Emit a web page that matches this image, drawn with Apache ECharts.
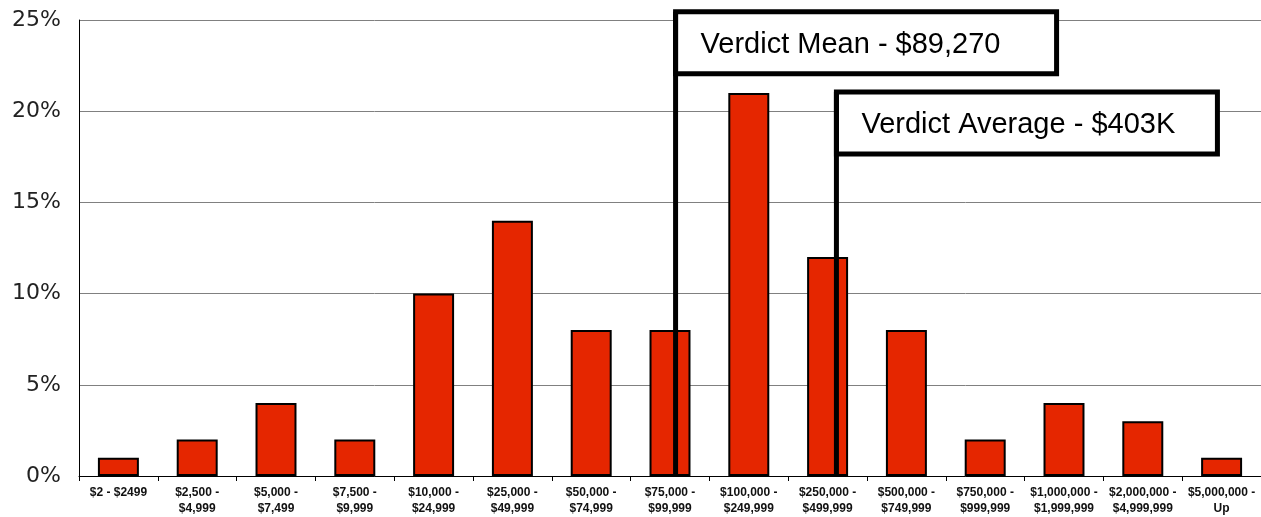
<!DOCTYPE html>
<html>
<head>
<meta charset="utf-8">
<script src="https://cdn.jsdelivr.net/npm/echarts@6/dist/echarts.min.js"></script>
<style>
html,body{margin:0;padding:0;background:#fff;}
#c{width:1261px;height:517px;}
</style>
</head>
<body>
<div id="c"></div>
<script>
// ---- data ----
const categories = ["$2 - $2499","$2,500 -\n$4,999","$5,000 -\n$7,499","$7,500 -\n$9,999","$10,000 -\n$24,999","$25,000 -\n$49,999","$50,000 -\n$74,999","$75,000 -\n$99,999","$100,000 -\n$249,999","$250,000 -\n$499,999","$500,000 -\n$749,999","$750,000 -\n$999,999","$1,000,000 -\n$1,999,999","$2,000,000 -\n$4,999,999","$5,000,000 -\nUp"];
const shares = [1, 2, 4, 2, 10, 14, 8, 8, 21, 12, 8, 2, 4, 3, 1];
const yTicks = [0, 5, 10, 15, 20, 25];
// bin lower/upper bounds for placing the annotation lines
const binLow  = [2, 2500, 5000, 7500, 10000, 25000, 50000, 75000, 100000, 250000, 500000, 750000, 1000000, 2000000, 5000000];
const binHigh = [2499, 4999, 7499, 9999, 24999, 49999, 74999, 99999, 249999, 499999, 749999, 999999, 1999999, 4999999, 10000000];
const annotations = [
  {label: "Verdict Mean - $89,270", value: 89270, topPct: 25.45},
  {label: "Verdict Average - $403K", value: 403000, topPct: 21.05}
];

function binPosition(v){
  for (let i = 0; i < binLow.length; i++) {
    if (v >= binLow[i] && v <= binHigh[i] + 1) {
      return i + (v - binLow[i]) / (binHigh[i] + 1 - binLow[i]);
    }
  }
  return 0;
}

const chart = echarts.init(document.getElementById('c'));
chart.setOption({
  animation: false,
  grid: {left: 79, top: 20, width: 1187, height: 458},
  xAxis: [{
    type: 'category',
    data: categories,
    axisLine: {lineStyle: {color: '#000', width: 1}},
    axisTick: {show: true, length: 5, lineStyle: {color: '#000'}},
    axisLabel: {
      interval: 0, margin: 9, color: '#111',
      fontFamily: '"Liberation Sans", Arial, sans-serif',
      fontWeight: 'bold', fontSize: 12, lineHeight: 16
    }
  }, {
    type: 'value', min: 0, max: 15, show: false
  }],
  yAxis: {
    type: 'value', min: 0, max: 25, interval: 5,
    axisLine: {show: true, lineStyle: {color: '#000', width: 1}},
    axisTick: {show: false},
    axisLabel: {
      formatter: v => yTicks.includes(v) ? v + '%' : '',
      margin: 18, color: '#222', fontSize: 22,
      padding: [5, 0, 0, 0],
      fontFamily: '"DejaVu Sans", sans-serif'
    },
    splitLine: {lineStyle: {color: '#808080', width: 1}}
  },
  series: [{
    type: 'bar',
    data: shares,
    barWidth: '52%',
    itemStyle: {color: '#E52600', borderColor: '#000', borderWidth: 2}
  }]
});

function drawAnnotations(){
  const els = [];
  const y0 = chart.convertToPixel({yAxisIndex: 0}, 0);
  annotations.forEach((a, i) => {
    const x = chart.convertToPixel({xAxisIndex: 1}, binPosition(a.value));
    const top = chart.convertToPixel({yAxisIndex: 0}, a.topPct);
    els.push({
      type: 'rect', z: 100,
      shape: {x: x, y: top, width: 381, height: 62},
      style: {fill: '#fff', stroke: '#000', lineWidth: 5}
    });
    els.push({
      type: 'line', z: 101,
      shape: {x1: x, y1: top, x2: x, y2: y0},
      style: {stroke: '#000', lineWidth: 5}
    });
    els.push({
      type: 'text', z: 102,
      x: x + 25, y: top + 33,
      style: {
        text: a.label, fill: '#000',
        font: '29px "Liberation Sans", Arial, sans-serif',
        textVerticalAlign: 'middle', verticalAlign: 'middle'
      }
    });
  });
  chart.setOption({graphic: els});
}
drawAnnotations();
</script>
</body>
</html>
